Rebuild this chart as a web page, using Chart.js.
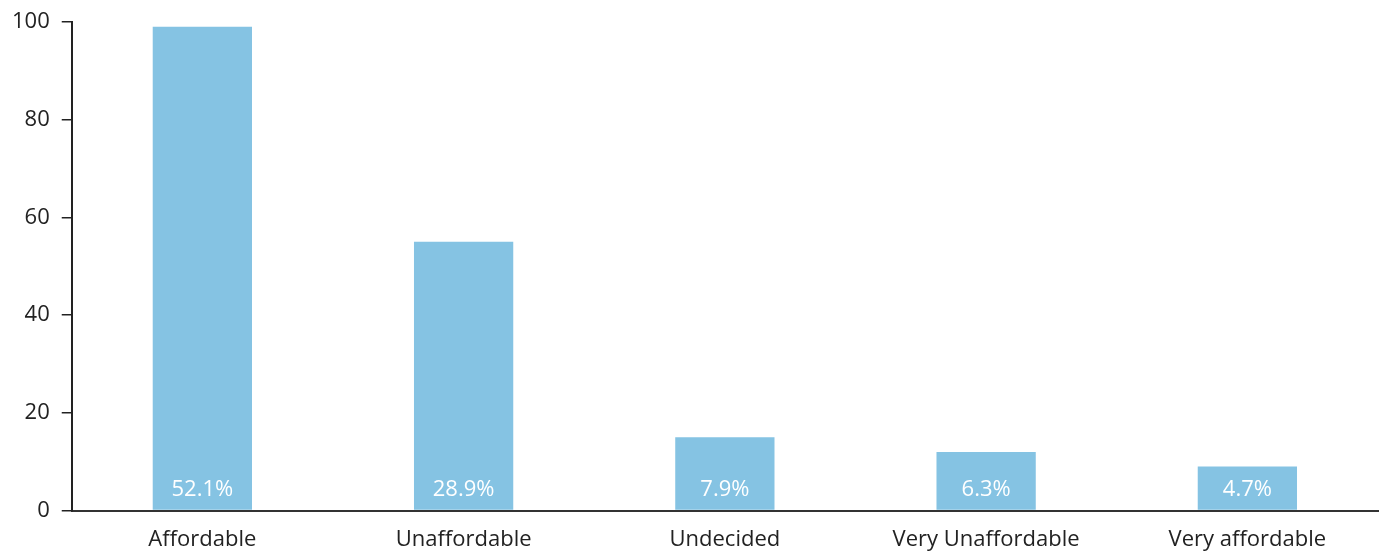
<!DOCTYPE html>
<html>
<head>
<meta charset="utf-8">
<script src="https://cdn.jsdelivr.net/npm/chart.js@4.4.1/dist/chart.umd.min.js"></script>
<style>
  html, body { margin: 0; padding: 0; background: #fff; }
  #wrap { position: relative; width: 1382px; height: 552px; }
</style>
</head>
<body>
<div id="wrap"><canvas id="chart"></canvas></div>
<script>
// Survey responses on affordability
const categories = ['Affordable', 'Unaffordable', 'Undecided', 'Very Unaffordable', 'Very affordable'];
const counts = [99, 55, 15, 12, 9];
const yTicks = [0, 20, 40, 60, 80, 100];

const total = counts.reduce((a, b) => a + b, 0);
const shares = counts.map(c => (c / total * 100).toFixed(1) + '%');

const FONT = "'Open Sans', 'Noto Sans', sans-serif";

// Share labels written inside each bar, just above its base
const shareLabels = {
  id: 'shareLabels',
  afterDatasetsDraw(chart) {
    const ctx = chart.ctx;
    const meta = chart.getDatasetMeta(0);
    const base = chart.scales.y.getPixelForValue(0);
    ctx.save();
    ctx.fillStyle = '#ffffff';
    ctx.font = '22px ' + FONT;
    ctx.textAlign = 'center';
    ctx.textBaseline = 'middle';
    meta.data.forEach((bar, i) => {
      ctx.fillText(shares[i], bar.x, base - 21);
    });
    ctx.restore();
  }
};

new Chart(document.getElementById('chart'), {
  type: 'bar',
  data: {
    labels: categories,
    datasets: [{
      data: counts,
      backgroundColor: '#85c3e3',
      borderWidth: 0,
      barPercentage: 0.38,
      categoryPercentage: 1.0
    }]
  },
  options: {
    responsive: true,
    maintainAspectRatio: false,
    animation: false,
    layout: { padding: { top: 2, right: 4, left: 0, bottom: -9 } },
    plugins: { legend: { display: false }, tooltip: { enabled: false } },
    scales: {
      x: {
        grid: { display: false },
        border: { display: true, color: '#333333', width: 2 },
        ticks: { color: '#222222', font: { family: FONT, size: 22 }, padding: 8 }
      },
      y: {
        min: 0,
        max: 100,
        z: 1,
        afterBuildTicks(scale) { scale.ticks = yTicks.map(v => ({ value: v })); },
        grid: {
          color: 'rgba(255,255,255,0.4)',
          lineWidth: 1.5,
          tickColor: '#222222',
          tickLength: 10,
          drawTicks: true
        },
        border: { display: true, color: '#222222', width: 2 },
        ticks: { color: '#222222', font: { family: FONT, size: 22, lineHeight: 0.9 }, padding: 12 }
      }
    }
  },
  plugins: [shareLabels]
});
</script>
</body>
</html>
